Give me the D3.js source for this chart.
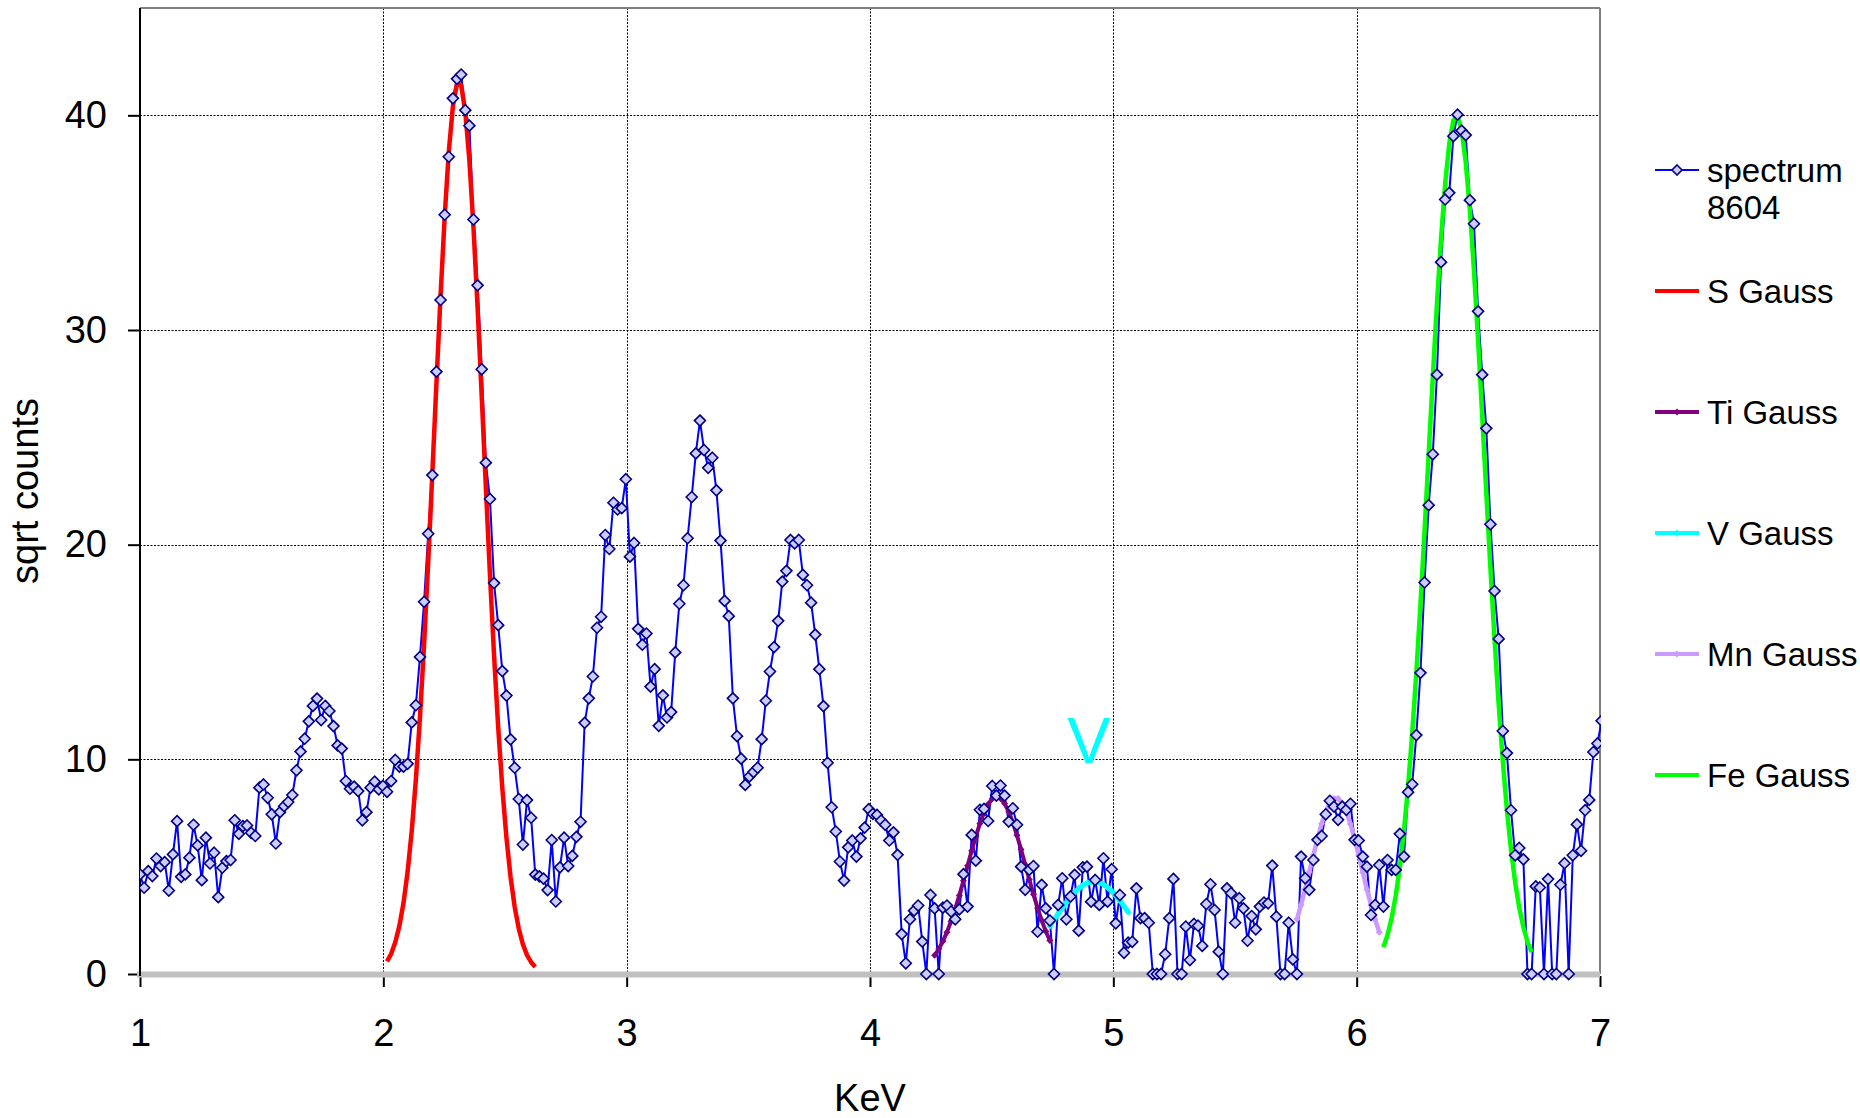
<!DOCTYPE html>
<html><head><meta charset="utf-8">
<script src="https://cdn.jsdelivr.net/npm/d3@7"></script>
<style>
html,body{margin:0;padding:0;background:#fff;}
svg{display:block;font-family:"Liberation Sans",Arial,Helvetica,sans-serif;}
</style></head><body>
<svg id="chart" width="1860" height="1118"></svg>
<script>
// ---- data ----
const energyStart = 1;          // keV of first channel
const channelWidth = 0.01692;   // keV per channel

const spectrum = [
4.64,4.02,4.79,4.56,5.38,5.03,5.21,3.89,5.57,7.12,
4.53,4.64,5.42,6.95,5.99,4.37,6.35,5.15,5.65,3.58,
4.95,5.26,5.31,7.16,6.53,6.89,6.92,6.58,6.43,8.68,
8.83,8.21,7.44,6.08,7.54,7.82,8.01,8.34,9.49,10.36,
10.96,11.77,12.49,12.83,11.83,12.49,12.25,11.55,10.65,10.50,
8.99,8.63,8.73,8.52,7.16,7.54,8.68,8.96,8.60,8.76,
8.49,8.99,9.97,9.66,9.66,9.79,11.72,12.52,14.77,17.34,
20.51,23.24,28.06,31.40,35.37,38.07,40.79,41.7,41.9,40.24,
39.52,35.15,32.08,28.17,23.82,22.13,18.21,16.25,14.11,12.97,
10.93,9.61,8.15,6.03,8.10,7.28,4.63,4.55,4.44,3.91,
6.24,3.38,4.97,6.35,5.03,5.5,6.39,7.09,11.70,12.84,
13.86,16.13,16.64,20.45,19.80,21.95,21.64,21.70,23.05,19.44,
20.08,16.08,15.34,15.86,13.39,14.20,11.56,12.98,11.95,12.20,
14.98,17.25,18.11,20.30,22.22,24.25,25.78,24.41,23.58,24.05,
22.53,20.19,17.38,16.67,12.84,11.08,10.03,8.81,9.20,9.41,
9.61,10.94,12.73,14.09,15.23,16.45,18.28,18.78,20.22,20.06,
20.22,18.59,18.11,17.30,15.81,14.20,12.48,9.84,7.77,6.64,
5.24,4.35,5.90,6.22,5.47,6.32,6.82,7.68,7.46,7.41,
7.15,6.95,6.22,6.60,5.55,1.86,0.50,2.55,2.95,3.19,
1.51,0,3.68,3.06,0,3.09,3.19,2.91,2.55,3.01,
4.65,3.14,6.48,5.28,7.65,7.69,7.13,8.76,8.31,8.78,
8.31,7.10,7.72,6.95,5.00,3.92,4.85,5.03,1.97,4.15,
3.06,2.49,0,3.22,4.46,2.55,3.61,4.62,2.02,4.97,
5.00,3.37,4.38,3.22,5.39,3.37,4.88,2.36,3.68,0.99,
1.46,1.5,3.99,2.60,2.60,2.39,0,0,0,0.92,
2.60,4.43,0,0,2.21,0.65,2.33,2.25,1.31,3.26,
4.18,2.98,1.04,0,3.99,3.76,2.39,3.53,3.06,1.55,
2.70,2.08,3.14,3.33,3.29,5.05,2.67,0,0,2.39,
0.68,0,5.47,4.46,3.92,5.31,6.25,6.43,7.44,8.07,
7.80,7.18,7.80,7.65,7.93,6.25,6.22,5.47,5.00,2.75,
3.22,5.08,3.14,5.31,4.85,4.85,6.53,5.47,8.47,8.84,
11.13,14.03,18.24,21.84,24.21,27.92,33.16,36.08,36.39,39.03,
40.03,39.29,39.08,36.05,34.95,30.87,27.92,25.42,20.95,17.84,
15.61,11.32,10.29,7.63,5.53,5.87,5.34,0,0,4.08,
4.03,0,4.42,0,0,4.16,5.16,0,5.53,6.97,
5.74,7.63,8.11,10.34,10.74,11.8
];

// Gauss fits, given on the same channels (first channel index, values)
const sGaussStart = 60;
const sGauss = [0.59,0.94,1.48,2.24,3.31,4.77,6.66,9.05,11.96,15.36,
19.19,23.31,27.53,31.60,35.28,38.31,40.43,41.49,41.41,40.18,
37.90,34.77,31.02,26.90,22.69,18.59,14.82,11.49,8.66,6.35,
4.52,3.13,2.11,1.38,0.88,0.55,0.33];

const tiGaussStart = 193;
const tiGauss = [0.87,1.16,1.52,1.95,2.46,3.03,3.66,4.34,5.04,5.74,
6.41,7.01,7.52,7.91,8.16,8.25,8.18,7.94,7.56,7.06,
6.46,5.80,5.10,4.40,3.71,3.08,2.50,1.99,1.56];

const vGaussStart = 221;
const vGauss = [2.24,2.52,2.79,3.07,3.33,3.58,3.79,3.98,4.13,4.23,
4.29,4.30,4.26,4.17,4.03,3.86,3.65,3.42,3.16,2.89];

const mnGaussStart = 281;
const mnGauss = [2.55,3.22,3.96,4.75,5.54,6.31,7.00,7.57,7.97,8.17,
8.17,7.96,7.56,6.99,6.30,5.53,4.73,3.94,3.20,2.53,1.95];

const feGaussStart = 302;
const feGauss = [1.25,1.82,2.61,3.65,4.99,6.69,8.76,11.22,14.05,17.22,
20.67,24.24,27.81,31.21,34.27,36.82,38.68,39.76,39.99,39.32,
37.82,35.59,32.77,29.51,26.00,22.39,18.88,15.57,12.56,9.92,
7.64,5.77,4.27,3.08,2.18,1.50,1.02];

const xTicks = [1,2,3,4,5,6,7];
const yTicks = [0,10,20,30,40];
const xGrid = [2,3,4,5,6];
const yGrid = [10,20,30,40];
const seriesNames = ["spectrum 8604","S Gauss","Ti Gauss","V Gauss","Mn Gauss","Fe Gauss"];
const annotationText = "V";
const annotationPos = [4.9, 9.85];

// ---- drawing ----
const svg = d3.select("#chart");
const plot = {left:140, right:1600, top:8, bottom:974};
const x = d3.scaleLinear().domain([1,7]).range([plot.left, plot.right]);
const y = d3.scaleLinear().domain([0,45]).range([plot.bottom, plot.top]);
const FONT = 38;

const toPts = (vals, start) => vals.map((v,i)=>[energyStart + (start+i)*channelWidth, v]);

svg.append("defs").append("clipPath").attr("id","clip")
  .append("rect").attr("x",plot.left).attr("y",0).attr("width",plot.right-plot.left+1).attr("height",1118);

// gridlines
const g = svg.append("g");
g.selectAll("line.vg").data(xGrid).join("line").attr("class","vg")
  .attr("x1",d=>Math.round(x(d))+0.5).attr("x2",d=>Math.round(x(d))+0.5)
  .attr("y1",plot.top).attr("y2",plot.bottom)
  .attr("stroke","#000").attr("stroke-width",1).attr("stroke-dasharray","2,1.5");
g.selectAll("line.hg").data(yGrid).join("line").attr("class","hg")
  .attr("x1",plot.left).attr("x2",plot.right)
  .attr("y1",d=>Math.round(y(d))+0.5).attr("y2",d=>Math.round(y(d))+0.5)
  .attr("stroke","#000").attr("stroke-width",1).attr("stroke-dasharray","2,1.5");

// plot border (top/right)
svg.append("line").attr("x1",plot.left).attr("x2",plot.right).attr("y1",plot.top).attr("y2",plot.top)
  .attr("stroke","#808080").attr("stroke-width",2);
svg.append("line").attr("x1",plot.right).attr("x2",plot.right).attr("y1",plot.top).attr("y2",plot.bottom)
  .attr("stroke","#808080").attr("stroke-width",2);

// axes
const yAxis = svg.append("g").attr("transform",`translate(${plot.left},0)`)
  .call(d3.axisLeft(y).tickValues(yTicks).tickSize(12).tickPadding(21).tickFormat(d3.format("d")));
yAxis.select(".domain").remove();
yAxis.selectAll(".tick line").attr("stroke","#000").attr("stroke-width",2);
yAxis.selectAll(".tick text").attr("font-size",FONT).attr("font-family","Liberation Sans, Arial, sans-serif").attr("fill","#000");

const xAxis = svg.append("g").attr("transform",`translate(0,${plot.bottom+2})`)
  .call(d3.axisBottom(x).tickValues(xTicks).tickSize(11).tickPadding(32).tickFormat(d3.format("d")));
xAxis.select(".domain").remove();
xAxis.selectAll(".tick line").attr("stroke","#000").attr("stroke-width",2);
xAxis.selectAll(".tick text").attr("font-size",FONT).attr("font-family","Liberation Sans, Arial, sans-serif").attr("fill","#000");

// x axis line (gray) and y axis line (black)
svg.append("line").attr("x1",plot.left-3).attr("x2",plot.right).attr("y1",plot.bottom+0.5).attr("y2",plot.bottom+0.5)
  .attr("stroke","#C0C0C0").attr("stroke-width",6);
svg.append("line").attr("x1",plot.left).attr("x2",plot.left).attr("y1",plot.top).attr("y2",plot.bottom+2)
  .attr("stroke","#000").attr("stroke-width",2);

// axis titles
svg.append("text").attr("x",(plot.left+plot.right)/2).attr("y",1111).attr("text-anchor","middle")
  .attr("font-size",FONT).text("KeV");
svg.append("text").attr("transform",`translate(38,${(plot.top+plot.bottom)/2}) rotate(-90)`)
  .attr("text-anchor","middle").attr("font-size",FONT).text("sqrt counts");

// series
const line = d3.line().x(d=>x(d[0])).y(d=>y(d[1]));
const data = svg.append("g").attr("clip-path","url(#clip)");
const specPts = toPts(spectrum, 0);

data.append("path").attr("d",line(specPts)).attr("fill","none").attr("stroke","#0000FF").attr("stroke-width",2)
  .attr("stroke-linejoin","round");

const gaussSeries = [
  {vals:sGauss, start:sGaussStart, color:"#FF0000", w:4.5, marker:false},
  {vals:tiGauss, start:tiGaussStart, color:"#800080", w:4, marker:true},
  {vals:vGauss, start:vGaussStart, color:"#00FFFF", w:5, marker:true},
  {vals:mnGauss, start:mnGaussStart, color:"#CC99FF", w:4.5, marker:true},
  {vals:feGauss, start:feGaussStart, color:"#00FF00", w:4.5, marker:false}
];
const smallDiamond = r => `M0,${-r}L${r},0L0,${r}L${-r},0Z`;
gaussSeries.forEach(s=>{
  const pts = toPts(s.vals, s.start);
  data.append("path").attr("d",line(pts)).attr("fill","none").attr("stroke",s.color)
    .attr("stroke-width",s.w).attr("stroke-linejoin","round");
  if (s.marker) {
    data.append("g").selectAll("path").data(pts).join("path")
      .attr("d",smallDiamond(3.5)).attr("transform",d=>`translate(${x(d[0])},${y(d[1])})`)
      .attr("fill",s.color);
  }
});

data.append("g").selectAll("path").data(specPts).join("path")
  .attr("d",smallDiamond(5.5)).attr("transform",d=>`translate(${x(d[0])},${y(d[1])})`)
  .attr("fill","#CCCCFF").attr("stroke","#000080").attr("stroke-width",1.6);

// V annotation
svg.append("text").attr("x",x(annotationPos[0])).attr("y",y(annotationPos[1]))
  .attr("text-anchor","middle").attr("font-size",65).attr("fill","#00FFFF").text(annotationText);

// legend
const legColors = ["#0000FF","#FF0000","#800080","#00FFFF","#CC99FF","#00FF00"];
const legWidths = [2,4,4,4,4,4];
const legMarker = ["spec",null,"small","small","small",null];
const leg = svg.append("g");
seriesNames.forEach((name,i)=>{
  const cy = 170 + i*121;
  leg.append("line").attr("x1",1655).attr("x2",1699).attr("y1",cy).attr("y2",cy)
    .attr("stroke",legColors[i]).attr("stroke-width",legWidths[i]);
  if (legMarker[i]==="spec") {
    leg.append("path").attr("d",smallDiamond(5)).attr("transform",`translate(1677,${cy})`)
      .attr("fill","#CCCCFF").attr("stroke","#000080").attr("stroke-width",1.6);
  } else if (legMarker[i]==="small") {
    leg.append("path").attr("d",smallDiamond(3.5)).attr("transform",`translate(1677,${cy})`)
      .attr("fill",legColors[i]);
  }
  const t = leg.append("text").attr("x",1707).attr("y",cy+12).attr("font-size",33).attr("fill","#000");
  if (i===0) {
    const parts = name.split(" ");
    t.append("tspan").attr("x",1707).text(parts[0]);
    t.append("tspan").attr("x",1707).attr("dy",37).text(parts[1]);
  } else {
    t.text(name);
  }
});
</script>
</body></html>
